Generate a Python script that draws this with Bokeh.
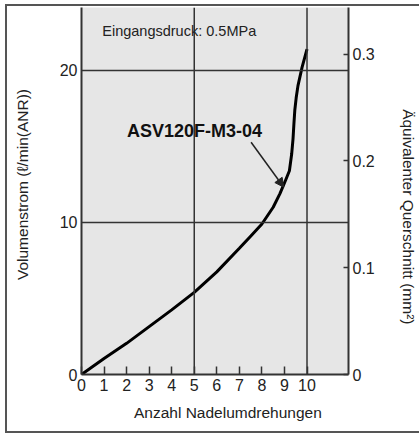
from bokeh.plotting import figure
from bokeh.models import (Range1d, LinearAxis, FixedTicker, Arrow, NormalHead,
                          Label, Span, InlineStyleSheet)
from bokeh.embed import file_html
from bokeh.resources import INLINE

# ---- data ----
turns = [0, 1, 2, 3, 4, 5, 6, 7, 7.5, 8, 8.5, 8.8, 9.0, 9.22, 9.32, 9.38, 9.42, 9.46, 9.52, 9.6, 9.78, 10.0]
flow = [0, 1.05, 2.05, 3.15, 4.25, 5.4, 6.75, 8.3, 9.1, 9.9, 11.0, 11.9, 12.6, 13.4, 14.5, 15.5, 16.5, 17.4, 18.2, 19.0, 20.2, 21.4]
x_ticks = [0, 1, 2, 3, 4, 5, 6, 7, 8, 9, 10]
y_ticks = [0, 10, 20]
area_ticks = [0, 0.1, 0.2, 0.3]
area_labels = ["0", "0.1", "0.2", "0.3"]
series_label = "ASV120F-M3-04"
note = "Eingangsdruck: 0.5MPa"
x_title = "Anzahl Nadelumdrehungen"
y_title = "Volumenstrom (ℓ/min(ANR))"
y2_title = "Äquivalenter Querschnitt (mm²)"

FONT = "Liberation Sans"
DARK = "#333333"
TXT = "#222222"
NB = "\u00a0"  # leading padding shifts the centred titles like in the original

W, H = 419, 434
p = figure(width=W, height=H, output_backend="svg", toolbar_location=None,
           x_range=Range1d(0, 11.84), y_range=Range1d(0, 24.14),
           min_border_left=81, min_border_right=68, min_border_top=7,
           min_border_bottom=60)
p.background_fill_color = "#e6e6e6"
p.border_fill_color = "white"
p.outline_line_color = None
p.xgrid.visible = False
p.ygrid.visible = False

for xv in [5, 10]:
    p.add_layout(Span(location=xv, dimension="height", line_color=DARK, line_width=1.5))
for yv in [10, 20]:
    p.add_layout(Span(location=yv, dimension="width", line_color=DARK, line_width=1.5))

p.extra_y_ranges = {"area": Range1d(0, 0.3437)}

def style_axis(ax, label, label_standoff):
    ax.minor_tick_line_color = None
    ax.major_tick_line_color = DARK
    ax.major_tick_line_width = 1.5
    ax.axis_line_color = DARK
    ax.axis_line_width = 2
    ax.major_label_text_font = FONT
    ax.major_label_text_font_size = "16px"
    ax.major_label_text_color = TXT
    ax.axis_label = label
    ax.axis_label_text_font = FONT
    ax.axis_label_text_font_size = "15.5px"
    ax.axis_label_text_font_style = "normal"
    ax.axis_label_text_color = TXT
    ax.axis_label_standoff = label_standoff

# x axis
xa = p.xaxis[0]
xa.ticker = FixedTicker(ticks=x_ticks)
style_axis(xa, NB * 6 + x_title, 10)
xa.major_tick_in = 8
xa.major_tick_out = 0
xa.major_label_standoff = 4

# left y axis
ya = p.yaxis[0]
ya.ticker = FixedTicker(ticks=y_ticks)
style_axis(ya, NB * 3 + y_title, 26)
ya.major_tick_in = 0
ya.major_tick_out = 0
ya.major_label_standoff = 4

# right y axis
ra = LinearAxis(y_range_name="area", ticker=FixedTicker(ticks=area_ticks))
ra.major_label_overrides = {t: l for t, l in zip(area_ticks, area_labels)}
style_axis(ra, NB * 12 + y2_title, 22)
ra.major_tick_in = 5
ra.major_tick_out = 0
ra.major_label_standoff = 4
p.add_layout(ra, "right")

# curve
p.line(turns, flow, line_color="black", line_width=3)

# annotations
p.add_layout(Label(x=0.92, y=22.57, text=note, text_font=FONT,
                   text_font_size="14.5px", text_color=TXT,
                   text_baseline="middle", text_align="left"))
p.add_layout(Label(x=2.02, y=16.0, text=series_label, text_font=FONT,
                   text_font_size="18px", text_font_style="bold",
                   text_color="#111111", text_baseline="middle", text_align="left"))
p.add_layout(Arrow(x_start=7.52, y_start=15.28, x_end=8.97, y_end=12.32,
                   line_color=TXT, line_width=1.5,
                   end=NormalHead(size=9, fill_color=TXT, line_color=TXT)))

# outer border (left, top, bottom; right side falls outside the window)
p.stylesheets = [InlineStyleSheet(css=(
    ":host { position: relative; }"
    ":host::after { content: ''; position: absolute; left: 5px; top: 4px;"
    " width: 440px; height: 429px; border: 2px solid #555555;"
    " box-sizing: border-box; pointer-events: none; z-index: 10; }"
))]

open("out.html", "w").write(file_html(p, INLINE))
